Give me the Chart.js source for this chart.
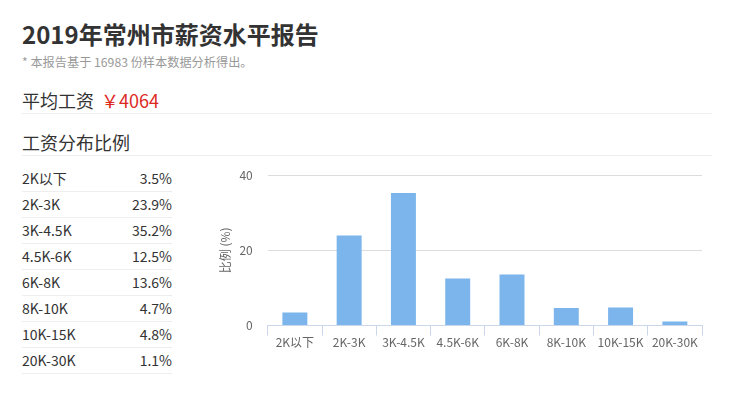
<!DOCTYPE html>
<html>
<head>
<meta charset="utf-8">
<script src="https://cdn.jsdelivr.net/npm/chart.js@4"></script>
<style>
body{margin:0;background:#fff;font-family:"Noto Sans CJK SC","Noto Sans",sans-serif;color:#333;}
#page{position:relative;width:748px;height:407px;overflow:hidden;}
.title{position:absolute;left:22px;top:16px;font-size:24px;font-weight:bold;color:#333;line-height:36px;white-space:nowrap;}
.sub{position:absolute;left:22px;top:53px;font-size:12.2px;color:#999;line-height:18px;white-space:nowrap;}
.head{position:absolute;left:22px;width:690px;font-size:18px;line-height:26px;color:#333;border-bottom:1px solid #eee;white-space:nowrap;}
.head .money{color:#dc2a1f;margin-left:7px;}
#table{position:absolute;left:22px;top:166px;width:150px;}
.row{height:25px;border-bottom:1px solid #eee;font-size:14px;line-height:25px;color:#333;display:flex;justify-content:space-between;}
#chartBox{position:absolute;left:205px;top:160px;width:515px;height:200px;}
</style>
</head>
<body>
<div id="page">
<div class="title">2019年常州市薪资水平报告</div>
<div class="sub">* 本报告基于 16983 份样本数据分析得出。</div>
<div class="head" style="top:87px;">平均工资<span class="money">￥4064</span></div>
<div class="head" style="top:129px;">工资分布比例</div>
<div id="table"></div>
<div id="chartBox"><canvas id="salaryChart"></canvas></div>
</div>
<script>
const categories = ["2K以下","2K-3K","3K-4.5K","4.5K-6K","6K-8K","8K-10K","10K-15K","20K-30K"];
const shares = [3.5, 23.9, 35.2, 12.5, 13.6, 4.7, 4.8, 1.1];
const yTicks = [0, 20, 40];

function drawTable(){
const table = document.getElementById("table");
table.innerHTML = "";
categories.forEach((cat,i)=>{
table.innerHTML += `<div class="row"><span>${cat}</span><span>${shares[i]}%</span></div>`;
});
}

function salaryChart(){
const ctx = document.getElementById("salaryChart");
const font = {size:12,family:'"Noto Sans CJK SC"'};
new Chart(ctx,{
type:'bar',
data:{
labels:categories,
datasets:[{
data:shares,
backgroundColor:'#7cb5ec',
categoryPercentage:1,
barPercentage:0.46
}]
},
options:{
responsive:true,
maintainAspectRatio:false,
animation:false,
layout:{padding:{top:15,right:18,bottom:10,left:9}},
plugins:{legend:{display:false},tooltip:{enabled:false}},
scales:{
x:{
grid:{offset:true,drawOnChartArea:false,drawTicks:true,tickLength:10,color:'#ccd6eb'},
border:{color:'#ccd6eb'},
ticks:{color:'#666',font:font,padding:0,maxRotation:0,autoSkip:false}
},
y:{
min:yTicks[0],
max:yTicks[yTicks.length-1],
afterBuildTicks:axis=>{axis.ticks = yTicks.map(v=>({value:v}));},
ticks:{color:'#666',font:font,padding:3},
// transparent tick marks only to keep a gap between labels and plot
grid:{color:'#dcdcdc',drawTicks:true,tickLength:12,tickColor:'rgba(0,0,0,0)'},
border:{display:false},
title:{display:true,text:'比例 (%)',color:'#666',font:font,padding:4}
}
}
}
});
}

drawTable();
salaryChart();
</script>
</body>
</html>
